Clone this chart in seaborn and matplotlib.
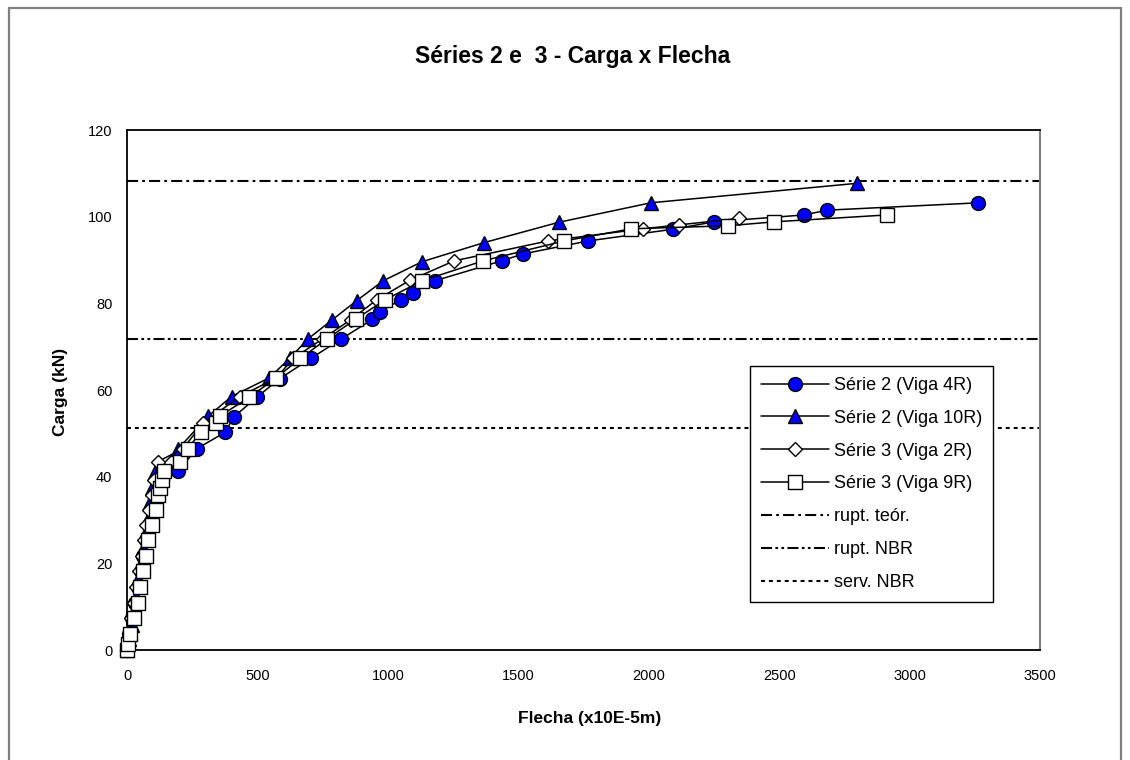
import matplotlib
matplotlib.use("Agg")
import matplotlib.pyplot as plt
import seaborn as sns
from matplotlib.lines import Line2D

# Load (kN) versus deflection (x10E-5 m) for each beam
x_4r = [0, 8, 20, 32, 42, 52, 62, 72, 84, 95, 108, 118, 135, 194, 269, 375, 410, 497, 585,
        705, 822, 941, 969, 1050, 1097, 1180, 1436, 1518, 1768, 2093, 2250, 2595, 2684, 3264]
y_4r = [0, 3.8, 7.3, 10.8, 14.5, 18.2, 21.7, 25.4, 28.8, 32.3, 35.8, 37.5, 39.2, 41.2, 46.5,
        50.2, 53.8, 58.3, 62.6, 67.3, 71.8, 76.3, 78.1, 80.8, 82.5, 85.2, 89.8, 91.4, 94.4,
        97.1, 98.8, 100.4, 101.5, 103.2]

x_10r = [0, 6, 18, 26, 33, 43, 54, 62, 70, 80, 88, 96, 108, 197, 312, 401, 545, 624, 692,
         787, 880, 982, 1131, 1368, 1655, 2008, 2799]
y_10r = [0, 2.5, 5.8, 9.0, 12.3, 16.5, 19.8, 23.3, 26.8, 30.2, 34.2, 37.5, 41.0, 46.5, 54.0,
         58.5, 62.8, 67.3, 71.7, 76.2, 80.6, 85.2, 89.6, 94.0, 98.7, 103.2, 107.7]

x_2r = [0, 6, 16, 26, 36, 46, 56, 64, 74, 84, 94, 104, 120, 215, 292, 433, 573, 637, 750,
        857, 957, 1084, 1254, 1614, 1978, 2115, 2346]
y_2r = [0, 3.8, 7.3, 10.8, 14.5, 18.2, 21.7, 25.4, 28.8, 32.3, 35.8, 39.2, 43.5, 46.5, 52.4,
        58.5, 62.8, 67.3, 71.8, 76.2, 80.8, 85.3, 89.8, 94.4, 97.2, 98.1, 99.6]

x_9r = [0, 5, 11, 27, 41, 50, 62, 72, 82, 95, 110, 120, 126, 133, 142, 203, 232, 283, 343,
        356, 469, 571, 665, 767, 876, 989, 1131, 1365, 1676, 1933, 2304, 2480, 2914]
y_9r = [0, 1.5, 3.8, 7.3, 10.8, 14.5, 18.2, 21.7, 25.4, 28.8, 32.3, 35.8, 37.4, 39.2, 41.3,
        43.4, 46.5, 50.2, 52.3, 54.0, 58.3, 62.8, 67.3, 71.8, 76.3, 80.8, 85.2, 89.8, 94.4,
        97.2, 97.9, 98.8, 100.4]

# Reference load levels (kN)
rupt_teor = 108.3
rupt_nbr = 71.8
serv_nbr = 51.3

series_labels = ["Série 2 (Viga 4R)", "Série 2 (Viga 10R)", "Série 3 (Viga 2R)", "Série 3 (Viga 9R)"]
ref_labels = ["rupt. teór.", "rupt. NBR", "serv. NBR"]
x_ticks = [0, 500, 1000, 1500, 2000, 2500, 3000, 3500]
y_ticks = [0, 20, 40, 60, 80, 100, 120]

sns.set_theme(style="white")
plt.rcParams['font.family'] = ['Liberation Sans', 'DejaVu Sans']
plt.rcParams.update({"text.color": "black", "axes.labelcolor": "black",
                     "xtick.color": "black", "ytick.color": "black"})

W, H = 1130, 760
fig = plt.figure(figsize=(W / 100, H / 100), dpi=100)
ax = fig.add_axes([127 / W, (H - 650) / H, 913 / W, 520 / H])

blue = "#0000FF"
styles = [
    dict(marker="o", markersize=10, markerfacecolor=blue),
    dict(marker="^", markersize=9.5, markerfacecolor=blue),
    dict(marker="D", markersize=7, markerfacecolor="white"),
    dict(marker="s", markersize=10, markerfacecolor="white"),
]
data = [(x_4r, y_4r), (x_10r, y_10r), (x_2r, y_2r), (x_9r, y_9r)]

for i, ((xs, ys), st) in enumerate(zip(data, styles)):
    sns.lineplot(x=xs, y=ys, ax=ax, sort=False, estimator=None, color="black",
                 linewidth=1.1, markeredgecolor="black", markeredgewidth=1.0,
                 legend=False, clip_on=False, zorder=3 + i, **st)

ref_dashes = [(5.3, 2.0, 1.3, 2.0), (5.3, 1.6, 1.3, 1.6, 1.3, 1.6), (1.9, 1.9)]
for val, d in zip([rupt_teor, rupt_nbr, serv_nbr], ref_dashes):
    ax.axhline(val, color="black", linewidth=1.5, dashes=d, zorder=2)

ax.set_xlim(0, 3500)
ax.set_ylim(0, 120)
ax.set_xticks(x_ticks)
ax.set_yticks(y_ticks)
ax.tick_params(direction="inout", length=9, width=1, colors="black", labelsize=10.5)
ax.tick_params(axis="x", pad=9)
ax.tick_params(axis="y", pad=6)
ax.set_xlabel("")
ax.set_ylabel("")
for side in ["left", "bottom", "top"]:
    ax.spines[side].set_color("black")
    ax.spines[side].set_linewidth(1.3)
ax.spines["right"].set_color("#808080")
ax.spines["right"].set_linewidth(1.5)

# Legend
handles = []
for st in styles:
    handles.append(Line2D([], [], color="black", linewidth=1.1, markeredgecolor="black",
                          markeredgewidth=1.0, **st))
for d in ref_dashes:
    handles.append(Line2D([], [], color="black", linewidth=1.5, dashes=d))
leg = ax.legend(handles, series_labels + ref_labels, loc="upper left",
                bbox_to_anchor=(750 / W, 1 - 366 / H), bbox_transform=fig.transFigure,
                fontsize=13, frameon=True, fancybox=False, framealpha=1,
                edgecolor="black", handlelength=3.8, handletextpad=0.25,
                labelspacing=0.88, borderpad=0.6, borderaxespad=0)
leg.get_frame().set_linewidth(1.0)
leg.set_zorder(10)
for t in leg.get_texts():
    t.set_color("black")

# Titles
fig.text(573 / W, 1 - 57 / H, "Séries 2 e  3 - Carga x Flecha", ha="center", va="center",
         fontsize=16.5, fontweight="bold", color="black")
fig.text(590 / W, 1 - 718 / H, "Flecha (x10E-5m)", ha="center", va="center",
         fontsize=12.5, fontweight="bold", color="black")
fig.text(60 / W, 1 - 392 / H, "Carga (kN)", ha="center", va="center", rotation=90,
         fontsize=12.5, fontweight="bold", color="black")

# Chart frame
frame_color = "#808080"
fig.add_artist(Line2D([9 / W, 9 / W], [0, 1 - 8 / H], color=frame_color, linewidth=1.6))
fig.add_artist(Line2D([1121 / W, 1121 / W], [0, 1 - 8 / H], color=frame_color, linewidth=1.6))
fig.add_artist(Line2D([9 / W, 1121 / W], [1 - 8 / H, 1 - 8 / H], color=frame_color, linewidth=1.6))

fig.savefig("out.png", dpi=100, facecolor="white")
